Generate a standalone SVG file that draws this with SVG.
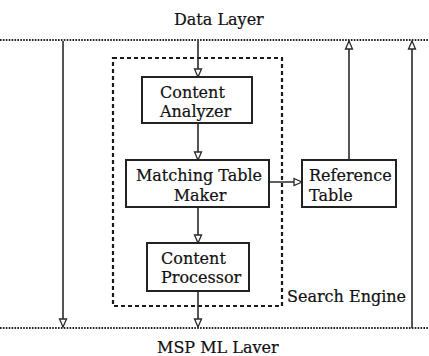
<svg xmlns="http://www.w3.org/2000/svg" width="429" height="356" viewBox="0 0 429 356">
  <defs>
    <style>
      text { font-family: "DejaVu Serif", "Noto Serif", "Liberation Serif", serif; font-size: 16px; fill: #111; stroke: #111; stroke-width: 0.2; }
      .layer { stroke: #222; stroke-width: 1.8; stroke-dasharray: 1.6 1.3; fill: none; }
      .group { stroke: #1a1a1a; stroke-width: 2.2; stroke-dasharray: 4 3; fill: none; }
      .box { stroke: #222; stroke-width: 2; fill: #fff; }
      .link { stroke: #2a2a2a; stroke-width: 1.6; fill: none; marker-end: url(#open-arrow); }
    </style>
    <marker id="open-arrow" markerUnits="userSpaceOnUse" markerWidth="10" markerHeight="10" viewBox="0 0 10 10" refX="9" refY="5" orient="auto">
      <path d="M1,1.5 L9,5 L1,8.5 Z" fill="#fff" stroke="#2a2a2a" stroke-width="1.3"/>
    </marker>
  </defs>

  <rect width="429" height="356" fill="#fff"/>

  <!-- layer boundaries -->
  <g id="data-layer">
    <line class="layer" x1="0" y1="40" x2="429" y2="40"/>
    <text x="174" y="25">Data Layer</text>
  </g>
  <g id="msp-ml-layer">
    <line class="layer" x1="0" y1="328" x2="429" y2="328"/>
    <text x="157" y="353">MSP ML Laver</text>
  </g>

  <!-- search engine boundary -->
  <g id="search-engine">
    <rect class="group" x="113" y="58" width="169" height="248"/>
    <text x="287" y="302">Search Engine</text>
  </g>

  <!-- connectors -->
  <g id="connectors">
    <line class="link" x1="198" y1="41" x2="198" y2="77"/>
    <line class="link" x1="198" y1="123" x2="198" y2="160"/>
    <line class="link" x1="198" y1="207" x2="198" y2="243"/>
    <line class="link" x1="198" y1="291" x2="198" y2="327"/>
    <line class="link" x1="269" y1="182" x2="302" y2="182"/>
    <line class="link" x1="349" y1="160" x2="349" y2="41"/>
    <line class="link" x1="63" y1="41" x2="63" y2="327"/>
    <line class="link" x1="412" y1="328" x2="412" y2="41"/>
  </g>

  <!-- nodes -->
  <g id="content-analyzer">
    <rect class="box" x="142" y="77" width="110" height="46"/>
    <text x="160" y="98">Content</text>
    <text x="160" y="117">Analyzer</text>
  </g>
  <g id="matching-table-maker">
    <rect class="box" x="126" y="160" width="143" height="47"/>
    <text x="199" y="181" text-anchor="middle">Matching Table</text>
    <text x="200" y="201" text-anchor="middle">Maker</text>
  </g>
  <g id="reference-table">
    <rect class="box" x="302" y="160" width="94" height="47"/>
    <text x="309" y="181">Reference</text>
    <text x="309" y="201">Table</text>
  </g>
  <g id="content-processor">
    <rect class="box" x="147" y="243" width="102" height="48"/>
    <text x="161" y="264">Content</text>
    <text x="161" y="283">Processor</text>
  </g>
</svg>
